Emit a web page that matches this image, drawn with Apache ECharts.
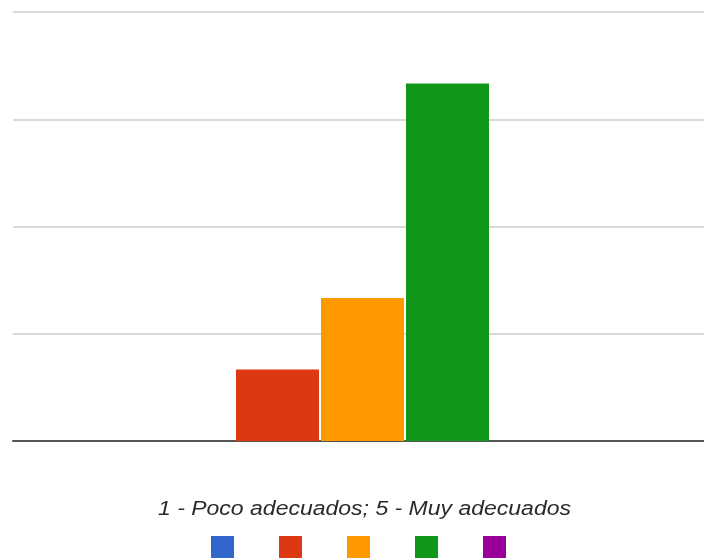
<!DOCTYPE html>
<html><head><meta charset="utf-8">
<script src="https://cdn.jsdelivr.net/npm/echarts@6/dist/echarts.min.js"></script>
<style>html,body{margin:0;padding:0;background:#fff}#c{width:704px;height:559px}</style>
</head><body><div id="c"></div>
<script>
const categories = ['Respuestas'];
const seriesNames = ['1', '2', '3', '4', '5'];
const seriesValues = [0, 2, 4, 10, 0];
const seriesColors = ['#3366cc', '#dc3912', '#ff9900', '#109618', '#990099'];
const axisTitle = '1 - Poco adecuados; 5 - Muy adecuados';

const chart = echarts.init(document.getElementById('c'));
chart.setOption({
  animation: false,
  grid: { left: 13, top: 12, right: -8, bottom: 118, containLabel: false, outerBoundsMode: 'none' },
  legend: {
    data: seriesNames,
    top: 536, left: 211, padding: 0,
    itemWidth: 23, itemHeight: 22, itemGap: 45,
    formatter: () => '',
    icon: 'rect',
    textStyle: { fontSize: 1 }
  },
  graphic: [{
    type: 'text', x: 364.5, y: 509, scaleX: 1.15,
    style: {
      text: axisTitle, align: 'center', verticalAlign: 'middle',
      font: 'italic 20px "Liberation Sans"', fill: '#2a2a2a'
    }
  }],
  xAxis: {
    type: 'category', data: categories,
    axisTick: { show: false }, axisLabel: { show: false },
    axisLine: { lineStyle: { color: '#555', width: 2 } }
  },
  yAxis: {
    type: 'value', min: 0, max: 12, interval: 3,
    axisLabel: { show: false }, axisLine: { show: false }, axisTick: { show: false },
    splitLine: { lineStyle: { color: '#cccccc', width: 1.5 } }
  },
  series: seriesNames.map((n, i) => ({
    name: n, type: 'bar', data: [seriesValues[i]],
    barWidth: 83, barGap: '2.4%',
    itemStyle: { color: seriesColors[i] }
  }))
});
</script></body></html>
